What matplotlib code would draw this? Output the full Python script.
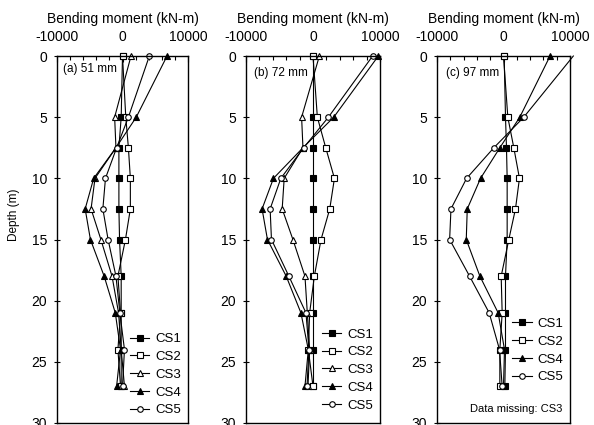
import matplotlib
matplotlib.use('Agg')
import matplotlib.pyplot as plt
from matplotlib.ticker import MultipleLocator

plt.rcParams['font.family'] = ['Liberation Sans', 'DejaVu Sans']
plt.rcParams['axes.unicode_minus'] = False

# glebokosc (m) - wspolna dla wszystkich paneli
depth = [0, 5, 7.5, 10, 12.5, 15, 18, 21, 24, 27]

# (a) 51 mm
a_cs1 = [0, -200, -550, -550, -550, -450, -200, -200, -200, -200]
a_cs2 = [0, 500, 900, 1200, 1200, 450, -700, -300, -700, -300]
a_cs3 = [1300, -1200, -1000, -4200, -4800, -3300, -1600, -600, -200, 300]
a_cs4 = [6800, 2100, -1000, -4400, -5700, -4900, -2800, -1100, -300, -900]
a_cs5 = [4100, 900, -900, -2600, -3000, -2200, -1000, -400, 300, 0]

# (b) 72 mm
b_cs1 = [0, 0, 0, 0, 0, 0, 0, 0, 0, 0]
b_cs2 = [0, 650, 1900, 3200, 2500, 1200, 200, -500, -700, 0]
b_cs3 = [950, -1700, -1500, -4300, -4600, -3000, -1200, -850, -500, -750]
b_cs4 = [9750, 3100, -1500, -5900, -7600, -6800, -4000, -1800, -700, -1200]
b_cs5 = [8900, 2300, -1400, -4800, -6400, -6200, -3600, -1050, -600, -900]

# (c) 97 mm, brak CS3
c_cs1 = [100, 300, 450, 550, 550, 550, 300, 300, 300, 200]
c_cs2 = [0, 650, 1550, 2400, 1800, 800, -350, -200, -550, -550]
c_cs4 = [7000, 2450, -550, -3450, -5450, -5600, -3550, -800, 150, 0]
c_cs5 = [10500, 3050, -1450, -5550, -7900, -8100, -5100, -2150, -600, -200]

panels = [
    ('(a) 51 mm', {'CS1': a_cs1, 'CS2': a_cs2, 'CS3': a_cs3, 'CS4': a_cs4, 'CS5': a_cs5}),
    ('(b) 72 mm', {'CS1': b_cs1, 'CS2': b_cs2, 'CS3': b_cs3, 'CS4': b_cs4, 'CS5': b_cs5}),
    ('(c) 97 mm', {'CS1': c_cs1, 'CS2': c_cs2, 'CS4': c_cs4, 'CS5': c_cs5}),
]

styles = {
    'CS1': dict(marker='s', mfc='black'),
    'CS2': dict(marker='s', mfc='white'),
    'CS3': dict(marker='^', mfc='white'),
    'CS4': dict(marker='^', mfc='black'),
    'CS5': dict(marker='o', mfc='white'),
}

W, H = 594, 425
# pozycje osi w pikselach: lewa, prawa
boxes = [(57, 188), (246, 380), (437, 570)]
top, bottom = 56, 423
label_pos = [(0.046, 0.965), (0.06, 0.954), (0.068, 0.954)]
leg_pos = [(0.947, 0.018), (0.948, 0.031), (0.95, 0.108)]

fig = plt.figure(figsize=(W / 100, H / 100), dpi=100)

for i, (title, series) in enumerate(panels):
    l, r = boxes[i]
    ax = fig.add_axes([l / W, (H - bottom) / H, (r - l) / W, (bottom - top) / H])
    for name, vals in series.items():
        st = styles[name]
        # markery tylko w obszarze wykresu (jak w Excelu)
        mk = [k for k, v in enumerate(vals) if abs(v) <= 10000]
        ax.plot(vals, depth, color='black', lw=0.8, marker=st['marker'], mfc=st['mfc'],
                mec='black', mew=0.8, ms=4, markevery=mk, label=name, clip_on=False)
    ax.set_xlim(-10000, 10000)
    ax.set_ylim(30, 0)
    ax.xaxis.tick_top()
    ax.xaxis.set_label_position('top')
    ax.xaxis.set_major_locator(MultipleLocator(10000))
    ax.xaxis.set_minor_locator(MultipleLocator(2000))
    ax.yaxis.set_major_locator(MultipleLocator(5))
    ax.tick_params(axis='x', which='major', direction='in', length=4, width=0.8,
                   labelsize=10, pad=8.6, top=True, bottom=False)
    ax.tick_params(axis='x', which='minor', direction='in', length=3, width=0.8,
                   top=True, bottom=False)
    ax.tick_params(axis='y', direction='inout', length=4, width=0.8, labelsize=10,
                   pad=5.2, right=False)
    for s in ax.spines.values():
        s.set_linewidth(1.0)
    ax.set_xlabel('Bending moment (kN-m)', fontsize=10)
    ax.xaxis.set_label_coords(0.5, 1.09)
    ax.text(label_pos[i][0], label_pos[i][1], title, transform=ax.transAxes,
            fontsize=8.5, ha='left', va='center')
    ax.legend(loc='lower right', bbox_to_anchor=leg_pos[i], frameon=False, fontsize=9.5,
              handlelength=1.45, handletextpad=0.45, labelspacing=0.42,
              borderpad=0, borderaxespad=0)
    if i == 0:
        ax.set_ylabel('Depth (m)', fontsize=8.5)
        ax.yaxis.set_label_coords(-0.282, 0.567)
    if i == 2:
        ax.text(0.94, 0.038, 'Data missing: CS3', transform=ax.transAxes,
                fontsize=8, ha='right', va='center')

fig.savefig('out.png', dpi=100)
